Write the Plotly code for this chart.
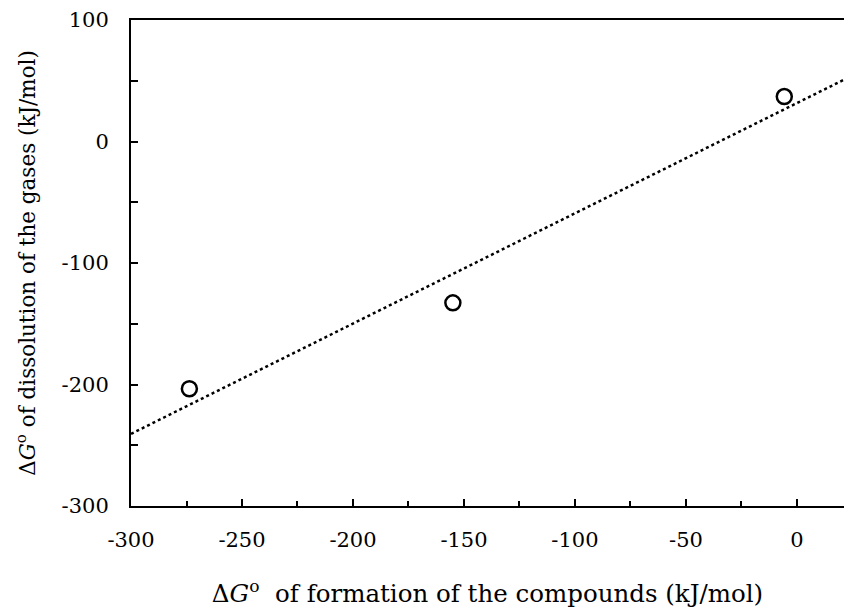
import numpy as np
import plotly.graph_objects as go

# Data
formation_dG = [-273.7, -155.0, -5.7]      # x: ΔG° of formation (kJ/mol)
dissolution_dG = [-203.5, -132.8, 37.0]     # y: ΔG° of dissolution (kJ/mol)

x_tick_vals = [-300, -250, -200, -150, -100, -50, 0]
x_tick_text = ["-300", "-250", "-200", "-150", "-100", "-50", "0"]
y_tick_vals = [-300, -200, -100, 0, 100]
y_tick_text = ["-300", "-200", "-100", "0", "100"]

x_range = [-300, 21.2]
y_range = [-300, 100]

# Linear trendline (least squares) from the data
slope, intercept = np.polyfit(formation_dG, dissolution_dG, 1)
trend_x = np.array(x_range)
trend_y = slope * trend_x + intercept

FONT = "DejaVu Serif"

fig = go.Figure()
fig.add_trace(go.Scatter(
    x=trend_x, y=trend_y, mode="lines",
    line=dict(color="black", width=2.5, dash="dot"),
    showlegend=False, hoverinfo="skip"))
fig.add_trace(go.Scatter(
    x=formation_dG, y=dissolution_dG, mode="markers",
    marker=dict(symbol="circle-open", size=15, color="black", line=dict(width=2.5, color="black")),
    showlegend=False))

fig.update_layout(
    width=844, height=612,
    margin=dict(l=131, r=0, t=20, b=106),
    paper_bgcolor="white", plot_bgcolor="white",
    font=dict(family=FONT, size=21, color="black"),
    xaxis=dict(
        range=x_range, showgrid=False, zeroline=False,
        showline=True, linecolor="black", linewidth=2, mirror=True,
        ticks="inside", ticklen=7, tickwidth=2, tickcolor="black",
        tickmode="array", tickvals=x_tick_vals, ticktext=x_tick_text,
        minor=dict(ticks="inside", ticklen=5, tickwidth=2, tickcolor="black",
                   tickmode="linear", tick0=0, dtick=25),
        ticklabelstandoff=14,
        title=dict(text="Δ<i>G</i><sup>o</sup>  of formation of the compounds (kJ/mol)",
                   font=dict(family=FONT, size=24.5), standoff=34),
    ),
    yaxis=dict(
        range=y_range, showgrid=False, zeroline=False,
        showline=True, linecolor="black", linewidth=2,
        ticks="inside", ticklen=7, tickwidth=2, tickcolor="black",
        tickmode="array", tickvals=y_tick_vals, ticktext=y_tick_text,
        minor=dict(ticks="inside", ticklen=7, tickwidth=2, tickcolor="black",
                   tickmode="linear", tick0=0, dtick=50),
        ticklabelstandoff=16,
        title=dict(text="Δ<i>G</i><sup>o</sup> of dissolution of the gases (kJ/mol)",
                   font=dict(family=FONT, size=21.5), standoff=20),
    ),
)

fig.write_html("out.html")
